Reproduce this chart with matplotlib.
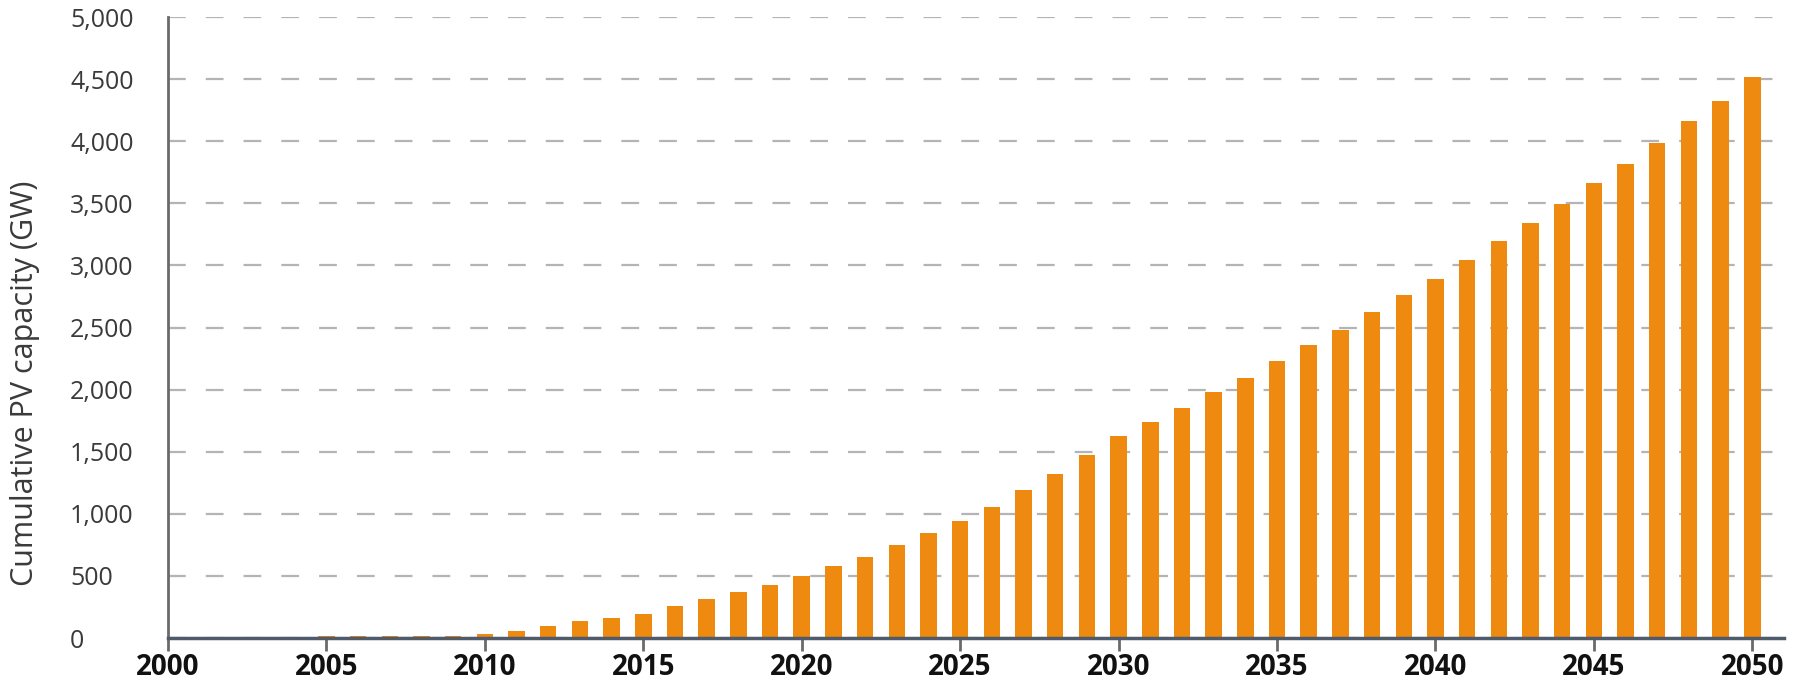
import numpy as np
import matplotlib

matplotlib.use("Agg")
import matplotlib.pyplot as plt

# ---- data -------------------------------------------------------------------
years = list(range(2000, 2051))
capacity_gw = [
    10, 10, 11, 12, 12, 13, 13, 14, 16, 20,          # 2000-2009
    35, 60, 95, 135, 162, 197, 257, 316, 373, 427,   # 2010-2019
    502, 581, 656, 751, 845, 940, 1056, 1188, 1318, 1472,   # 2020-2029
    1623, 1742, 1852, 1979, 2097, 2229, 2360, 2481, 2624, 2759,  # 2030-2039
    2891, 3040, 3193, 3343, 3496, 3667, 3816, 3987, 4162, 4325,  # 2040-2049
    4518,                                            # 2050
]
x_ticks = list(range(2000, 2051, 5))
y_ticks = list(range(0, 5001, 500))

ORANGE = "#EF8A10"
GRID = "#b4b4b4"
AXIS_LEFT = "#6a6a6a"
AXIS_BOTTOM = "#4f5a6b"
LABEL = "#3a3a3a"

plt.rcParams["font.family"] = ["Open Sans", "DejaVu Sans"]

fig = plt.figure(figsize=(17.93, 6.92), dpi=100)
ax = fig.add_axes([168 / 1793, 54 / 692, (1784 - 168) / 1793, (638 - 17) / 692])

ax.bar(years, capacity_gw, width=0.52, color=ORANGE, zorder=2)

ax.set_xlim(2000, 2051)
ax.set_ylim(0, 5000)

ax.set_yticks(y_ticks)
ax.set_yticklabels([f"{v:,}" for v in y_ticks], fontsize=18, color=LABEL, ha="left")
ax.set_xticks(x_ticks)
ax.set_xticklabels([str(v) for v in x_ticks], fontsize=20, fontweight="bold",
                   color="#111111")

# tick labels are left-aligned about 98 px left of the axis
ax.tick_params(axis="y", length=0, pad=70.5)
ax.tick_params(axis="x", length=9, width=2, color=AXIS_LEFT, pad=2)

ax.yaxis.grid(True, color=GRID, lw=1.6, linestyle=(0, (8, 9)))
ax.set_axisbelow(True)

for side in ("top", "right"):
    ax.spines[side].set_visible(False)
ax.spines["left"].set_color(AXIS_LEFT)
ax.spines["left"].set_linewidth(2)
ax.spines["bottom"].set_color(AXIS_BOTTOM)
ax.spines["bottom"].set_linewidth(2.5)
ax.spines["bottom"].set_zorder(3)

ax.set_ylabel("Cumulative PV capacity (GW)", fontsize=22, color=LABEL)
ax.yaxis.set_label_coords(-0.079, 0.41)

fig.savefig("out.png", dpi=100)
